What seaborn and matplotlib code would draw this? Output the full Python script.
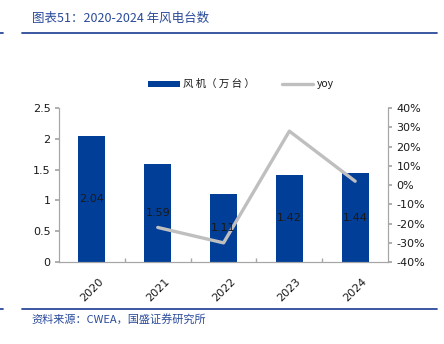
import matplotlib
matplotlib.use("Agg")
import matplotlib.pyplot as plt
import seaborn as sns
import pandas as pd
from matplotlib.lines import Line2D
from matplotlib.patches import Patch
from matplotlib.ticker import FuncFormatter, FixedLocator

years = ["2020", "2021", "2022", "2023", "2024"]
units = [2.04, 1.59, 1.11, 1.42, 1.44]
yoy_years = ["2021", "2022", "2023", "2024"]
yoy = [-22, -30, 28, 2]

sns.set_theme(style="white")
plt.rcParams['font.family'] = ['Noto Sans CJK SC', 'DejaVu Sans']

BLUE = "#003E97"
GREY = "#BFBFBF"
TXT = "#1A1A1A"
HEAD = "#2A4A9A"

fig = plt.figure(figsize=(4.44, 3.44), dpi=100)
ax = fig.add_axes([0.133, 0.238, 0.741, 0.448])

df = pd.DataFrame({"year": years, "units": units})
sns.barplot(data=df, x="year", y="units", color=BLUE, width=0.41, ax=ax,
            saturation=1, edgecolor="none")
ax.set_ylim(0, 2.5)
ax.set_xlim(-0.5, 4.5)
ax.set_yticks([0, 0.5, 1, 1.5, 2, 2.5])
ax.yaxis.set_major_formatter(FuncFormatter(lambda v, p: f"{v:g}"))
ax.set_xlabel("")
ax.set_ylabel("")

ax2 = ax.twinx()
ldf = pd.DataFrame({"x": [years.index(y) for y in yoy_years], "yoy": yoy})
sns.lineplot(data=ldf, x="x", y="yoy", color=GREY, linewidth=2.4, ax=ax2)
ax2.set_ylim(-40, 40)
ax2.set_yticks(range(-40, 41, 10))
ax2.yaxis.set_major_formatter(FuncFormatter(lambda v, p: f"{v:.0f}%"))
ax2.set_ylabel("")
ax2.set_xlim(-0.5, 4.5)

for i, v in enumerate(units):
    ax2.text(i, v / 2, f"{v:.2f}", ha="center", va="center", fontsize=8,
             color=TXT, family="DejaVu Sans", transform=ax.transData, zorder=10)

for a in (ax, ax2):
    for s in a.spines.values():
        s.set_color("#A6A6A6")
        s.set_linewidth(0.8)
    a.spines["top"].set_visible(False)
    a.grid(False)

ax.tick_params(axis="y", direction="out", length=3, color="#A6A6A6",
               labelsize=8, labelcolor=TXT, left=True, pad=3)
ax2.tick_params(axis="y", direction="out", length=3, color="#A6A6A6",
                labelsize=8, labelcolor=TXT, right=True, pad=3)
ax.tick_params(axis="x", bottom=False, labelsize=8, labelcolor=TXT, pad=4)
ax.xaxis.set_minor_locator(FixedLocator([0.5, 1.5, 2.5, 3.5]))
ax.tick_params(axis="x", which="minor", bottom=True, direction="in", length=3,
               color="#A6A6A6")
for lab in ax.get_xticklabels():
    lab.set_rotation(45)
    lab.set_family("DejaVu Sans")
for lab in ax.get_yticklabels() + ax2.get_yticklabels():
    lab.set_family("DejaVu Sans")

handles = [Patch(facecolor=BLUE, edgecolor="none"),
           Line2D([0], [0], color=GREY, linewidth=2.4)]
fig.legend(handles, ["风 机（ 万 台 ）", "yoy"], loc="center", ncol=2,
           bbox_to_anchor=(0.543, 0.755), frameon=False, fontsize=7.5,
           handlelength=3.0, handleheight=0.55, columnspacing=2.6,
           handletextpad=0.35, labelcolor=TXT)

# header and footer
fig.text(0.072, 0.948, "图表51：2020-2024 年风电台数", fontsize=9, color=HEAD,
         style="italic", ha="left", va="center")
fig.add_artist(Line2D([0.05, 0.985], [0.903, 0.903], color=HEAD, linewidth=1.3))
fig.add_artist(Line2D([0.0, 0.007], [0.903, 0.903], color=HEAD, linewidth=1.3))
fig.add_artist(Line2D([0.05, 0.985], [0.101, 0.101], color=HEAD, linewidth=1.3))
fig.add_artist(Line2D([0.0, 0.007], [0.101, 0.101], color=HEAD, linewidth=1.3))
fig.text(0.072, 0.072, "资料来源：CWEA，国盛证券研究所", fontsize=8, color=HEAD,
         style="italic", ha="left", va="center")

fig.savefig("out.png", dpi=100)
